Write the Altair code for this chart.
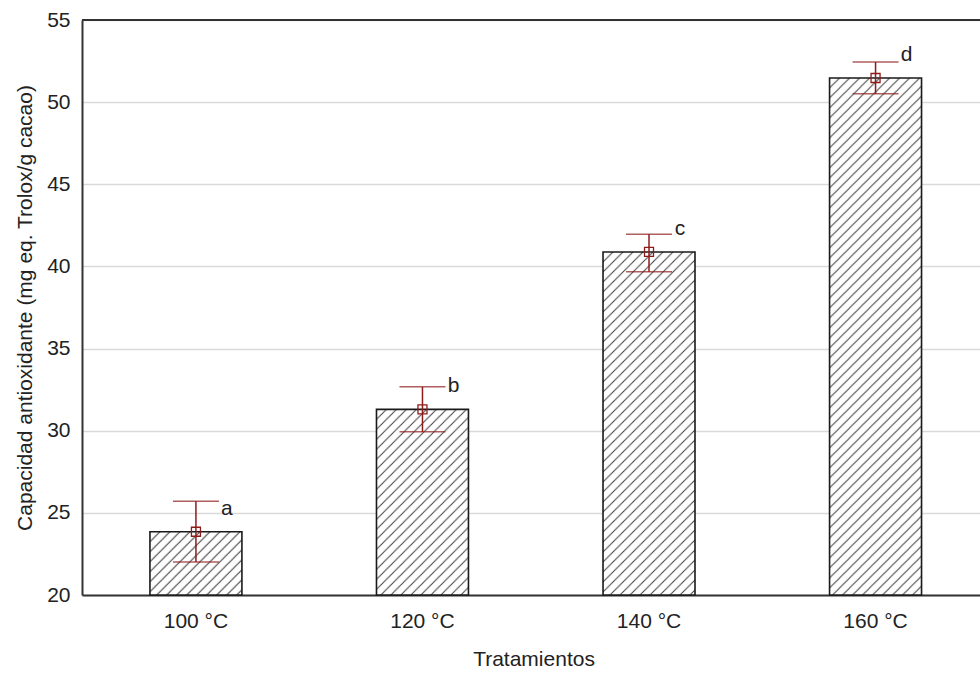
import base64

import altair as alt
import pandas as pd

# Antioxidant capacity by roasting temperature (mean, error limits, Tukey letters)
tratamientos = ["100 °C", "120 °C", "140 °C", "160 °C"]
media = [23.85, 31.30, 40.88, 51.47]
inferior = [22.01, 29.93, 39.68, 50.51]
superior = [25.71, 32.67, 41.96, 52.44]
letras = ["a", "b", "c", "d"]
y_ticks = [20, 25, 30, 35, 40, 45, 50, 55]

df = pd.DataFrame(
    {
        "tratamiento": tratamientos,
        "media": media,
        "inferior": inferior,
        "superior": superior,
        "letra": letras,
    }
)

ROJO = "#8f1a1a"
TINTA = "#222222"
FUENTE = "Liberation Sans"
TAM = 21

# Diagonal hatch used to fill the bars (tiled SVG pattern)
hatch_svg = (
    '<svg xmlns="http://www.w3.org/2000/svg" width="100%" height="100%">'
    '<defs><pattern id="h" width="10" height="10" patternUnits="userSpaceOnUse">'
    '<path d="M-1,1 L1,-1 M0,10 L10,0 M9,11 L11,9" stroke="#3c3c3c" '
    'stroke-width="1" fill="none"/></pattern></defs>'
    '<rect width="100%" height="100%" fill="url(#h)"/></svg>'
)
hatch_url = "data:image/svg+xml;base64," + base64.b64encode(hatch_svg.encode()).decode()

x_enc = alt.X(
    "tratamiento:N",
    sort=tratamientos,
    scale=alt.Scale(paddingInner=0.594, paddingOuter=0.279, align=0.5375),
    axis=alt.Axis(
        title="Tratamientos",
        labelAngle=0,
        ticks=False,
        labelPadding=15,
        labelFontSize=TAM,
        titleFontSize=TAM,
        titleFontWeight="normal",
        titleBaseline="alphabetic",
        titleX=451.5,
        titleY=70,
        domainColor="#333333",
        domainWidth=2,
        labelColor=TINTA,
        titleColor=TINTA,
    ),
)

y_scale = alt.Scale(domain=[20, 55], nice=False, zero=False)
y_axis = alt.Axis(
    title="Capacidad antioxidante (mg eq. Trolox/g cacao)",
    values=y_ticks,
    ticks=False,
    labelPadding=12,
    labelFontSize=TAM,
    titleFontSize=TAM,
    titleFontWeight="normal",
    titleAngle=270,
    titleBaseline="alphabetic",
    titleX=-51,
    titleY=287.5,
    domainColor="#333333",
    domainWidth=2,
    grid=True,
    gridColor="#d9d9d9",
    gridWidth=1.5,
    labelColor=TINTA,
    titleColor=TINTA,
)

base = alt.Chart(df).encode(x=x_enc)

fondo = base.mark_bar(fill="white", strokeWidth=0).encode(
    y=alt.Y("media:Q", scale=y_scale, axis=y_axis),
    y2=alt.datum(20),
)

rayado = base.mark_image(url=hatch_url, aspect=False).encode(
    y=alt.Y("media:Q"),
    y2=alt.datum(20),
)

contorno = base.mark_bar(fillOpacity=0, stroke="#1a1a1a", strokeWidth=1.6).encode(
    y=alt.Y("media:Q"),
    y2=alt.datum(20),
)

barra_error = base.mark_rule(color=ROJO, strokeWidth=1.5).encode(
    y=alt.Y("inferior:Q"),
    y2="superior:Q",
)

tope_sup = base.mark_tick(color=ROJO, thickness=1.5, size=46).encode(y=alt.Y("superior:Q"))
tope_inf = base.mark_tick(color=ROJO, thickness=1.5, size=46).encode(y=alt.Y("inferior:Q"))

marcador = base.mark_point(
    shape="square", size=81, filled=False, color=ROJO, strokeWidth=1.3, opacity=1
).encode(y=alt.Y("media:Q"))

letra_txt = base.mark_text(
    dx=31, dy=-23, fontSize=TAM, color=TINTA, font=FUENTE
).encode(y=alt.Y("media:Q"), text="letra:N")

borde_sup = alt.Chart(df).mark_rule(color="#333333", strokeWidth=2).encode(y=alt.datum(55))

chart = (
    alt.layer(fondo, rayado, contorno, barra_error, tope_sup, tope_inf, marcador, letra_txt, borde_sup)
    .properties(
        width=898,
        height=575,
        autosize=alt.AutoSizeParams(type="none"),
        padding={"left": 82, "top": 20, "right": 0, "bottom": 78},
        background="white",
    )
    .configure_view(stroke=None)
    .configure_axis(labelFont=FUENTE, titleFont=FUENTE)
    .configure_text(font=FUENTE)
)

chart.save("out.html", embed_options={"renderer": "svg", "actions": False})
